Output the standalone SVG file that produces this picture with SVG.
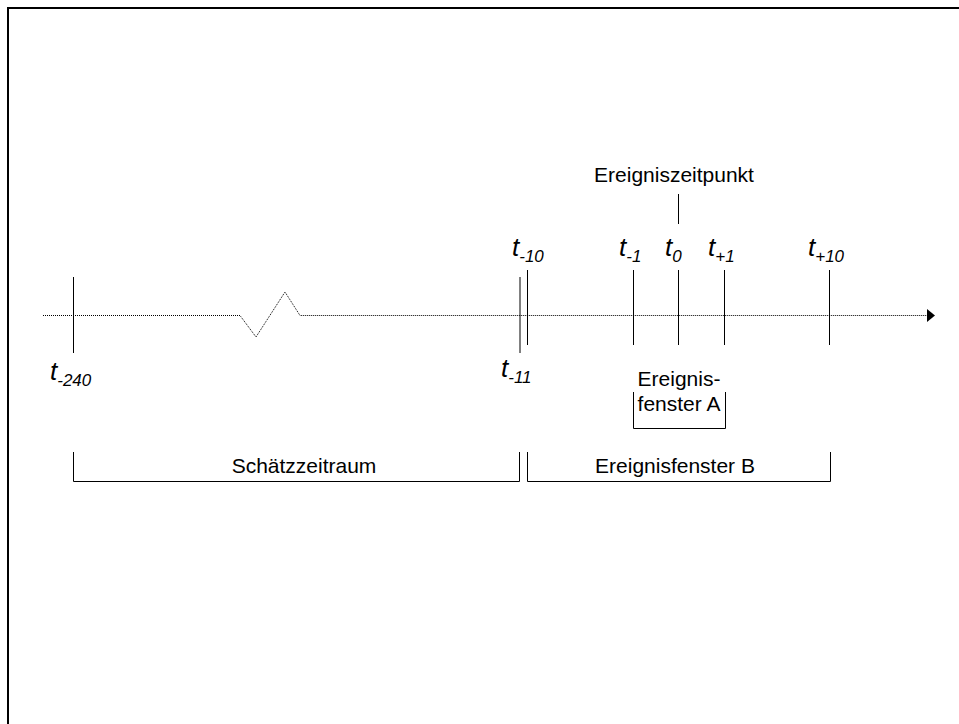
<svg xmlns="http://www.w3.org/2000/svg" width="959" height="724" viewBox="0 0 959 724">
<style>
.lbl{font-family:"Liberation Sans",Arial,sans-serif;font-size:21px;fill:#000}
.t{font-family:"Liberation Sans",Arial,sans-serif;font-style:italic;font-size:26px;fill:#000}
.sub{font-size:17px}
.tick{stroke:#000;stroke-width:1;fill:none}
.axis{stroke:#000;stroke-width:1;stroke-dasharray:1 1;fill:none}
.br{stroke:#000;stroke-width:1;fill:none}
</style>
<defs>
<marker id="arr" markerWidth="10" markerHeight="14" refX="8" refY="6" orient="auto" markerUnits="userSpaceOnUse">
<path d="M0,0 L8,6 L0,12 Z" fill="#000"/>
</marker>
</defs>
<rect x="8" y="8" width="1000" height="1000" fill="#fff" stroke="#000" stroke-width="2"/>
<g id="connectors">
<path class="axis" d="M43,315.5 L240,315.5 L256,337 L285,292 L300,315.5 L927,315.5"/>
<path d="M927,309 L935,315.5 L927,322 Z" fill="#000"/>
<line class="tick" x1="678.5" y1="194" x2="678.5" y2="224"/>
</g>
<g id="tick-t-240"><line class="tick" x1="73.5" y1="277" x2="73.5" y2="353"/>
<text class="t" x="50" y="380">t<tspan class="sub" dy="6">-240</tspan></text></g>
<g id="tick-t-11"><line class="tick" x1="520" y1="277" x2="520" y2="353"/>
<text class="t" x="501" y="377">t<tspan class="sub" dy="6">-11</tspan></text></g>
<g id="tick-t-10"><line class="tick" x1="527.5" y1="270" x2="527.5" y2="345"/>
<text class="t" x="512" y="256">t<tspan class="sub" dy="6">-10</tspan></text></g>
<g id="tick-t-1"><line class="tick" x1="633.5" y1="270" x2="633.5" y2="345"/>
<text class="t" x="619" y="256">t<tspan class="sub" dy="6">-1</tspan></text></g>
<g id="tick-t0"><line class="tick" x1="678.5" y1="270" x2="678.5" y2="345"/>
<text class="t" x="665" y="256">t<tspan class="sub" dy="6">0</tspan></text></g>
<g id="tick-t+1"><line class="tick" x1="724.5" y1="270" x2="724.5" y2="345"/>
<text class="t" x="708" y="256">t<tspan class="sub" dy="6">+1</tspan></text></g>
<g id="tick-t+10"><line class="tick" x1="829.5" y1="270" x2="829.5" y2="345"/>
<text class="t" x="808" y="256">t<tspan class="sub" dy="6">+10</tspan></text></g>
<g id="ereigniszeitpunkt"><text class="lbl" x="674" y="182" text-anchor="middle">Ereigniszeitpunkt</text></g>
<g id="ereignisfenster-a">
<path class="br" d="M633.5,392 L633.5,428.5 L725.5,428.5 L725.5,392"/>
<text class="lbl" x="679" y="386" text-anchor="middle">Ereignis-</text>
<text class="lbl" x="679" y="411" text-anchor="middle">fenster A</text>
</g>
<g id="schaetzzeitraum">
<path class="br" d="M73.5,452 L73.5,481.5 L519.5,481.5 L519.5,452"/>
<text class="lbl" x="304" y="473" text-anchor="middle">Schätzzeitraum</text>
</g>
<g id="ereignisfenster-b">
<path class="br" d="M527.5,452 L527.5,481.5 L830.5,481.5 L830.5,452"/>
<text class="lbl" x="675" y="473" text-anchor="middle">Ereignisfenster B</text>
</g>
</svg>
